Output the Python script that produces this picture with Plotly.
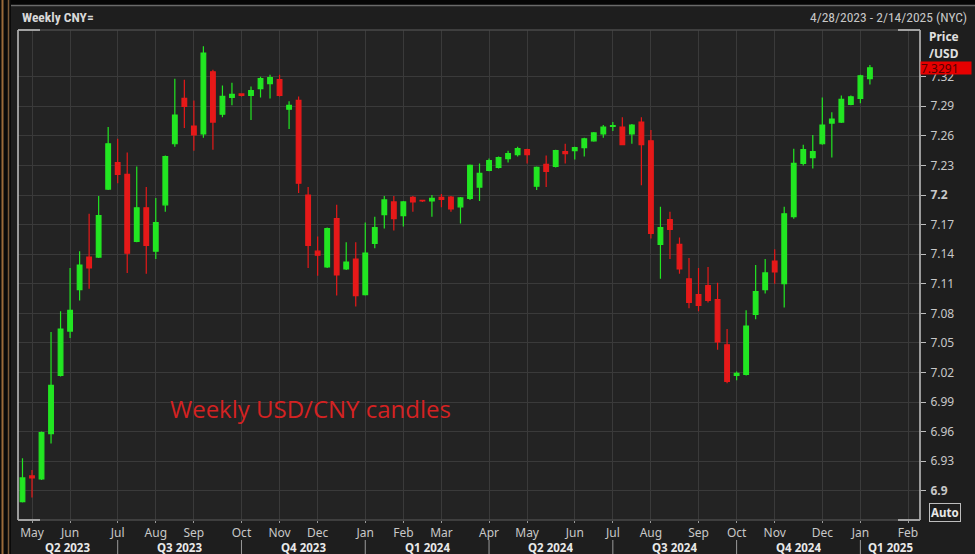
import pandas as pd
import plotly.graph_objects as go

# ---------------- data ----------------
window_start = "2023-04-28"
window_end = "2025-02-14"

opens = [6.889, 6.915, 6.912, 6.958, 7.017, 7.062, 7.104, 7.137, 7.137, 7.206,
         7.233, 7.221, 7.153, 7.187, 7.143, 7.190, 7.252, 7.298, 7.270, 7.262,
         7.325, 7.282, 7.299, 7.3025, 7.301, 7.308, 7.313, 7.317, 7.287, 7.296,
         7.200, 7.143, 7.127, 7.176, 7.125, 7.135, 7.099, 7.151, 7.180, 7.193,
         7.179, 7.1976, 7.1945, 7.194, 7.1976, 7.198, 7.188, 7.1966, 7.208, 7.225,
         7.228, 7.237, 7.241, 7.246, 7.209, 7.231, 7.229, 7.244, 7.245, 7.248,
         7.255, 7.262, 7.2697, 7.269, 7.262, 7.274, 7.255, 7.150, 7.175, 7.150,
         7.115, 7.099, 7.108, 7.094, 7.048, 7.017, 7.018, 7.079, 7.104, 7.133,
         7.110, 7.178, 7.232, 7.238, 7.252, 7.273, 7.274, 7.292, 7.298, 7.318]
highs = [6.933, 6.921, 6.960, 7.061, 7.082, 7.126, 7.143, 7.181, 7.199, 7.269,
         7.257, 7.243, 7.229, 7.208, 7.197, 7.240, 7.318, 7.317, 7.296, 7.351,
         7.327, 7.311, 7.314, 7.303, 7.310, 7.320, 7.322, 7.322, 7.295, 7.300,
         7.208, 7.158, 7.167, 7.190, 7.152, 7.152, 7.172, 7.178, 7.199, 7.199,
         7.194, 7.199, 7.195, 7.200, 7.201, 7.199, 7.198, 7.231, 7.232, 7.237,
         7.239, 7.245, 7.249, 7.247, 7.229, 7.240, 7.246, 7.252, 7.249, 7.258,
         7.264, 7.271, 7.274, 7.279, 7.272, 7.279, 7.266, 7.188, 7.183, 7.157,
         7.136, 7.126, 7.127, 7.111, 7.064, 7.021, 7.083, 7.129, 7.135, 7.145,
         7.188, 7.247, 7.251, 7.261, 7.299, 7.284, 7.301, 7.301, 7.322, 7.332]
lows = [6.888, 6.893, 6.911, 6.948, 7.016, 7.055, 7.093, 7.105, 7.136, 7.205,
        7.212, 7.121, 7.152, 7.120, 7.135, 7.183, 7.249, 7.268, 7.245, 7.258,
        7.246, 7.279, 7.291, 7.300, 7.276, 7.299, 7.298, 7.300, 7.267, 7.202,
        7.126, 7.118, 7.126, 7.098, 7.124, 7.087, 7.098, 7.146, 7.166, 7.164,
        7.168, 7.183, 7.193, 7.178, 7.1875, 7.183, 7.171, 7.195, 7.194, 7.224,
        7.227, 7.233, 7.239, 7.232, 7.205, 7.208, 7.228, 7.232, 7.236, 7.239,
        7.254, 7.258, 7.265, 7.251, 7.252, 7.210, 7.156, 7.115, 7.135, 7.120,
        7.085, 7.082, 7.091, 7.043, 7.009, 7.012, 7.017, 7.074, 7.100, 7.110,
        7.086, 7.176, 7.230, 7.227, 7.251, 7.238, 7.273, 7.291, 7.293, 7.312]
closes = [6.913, 6.913, 6.959, 7.007, 7.064, 7.083, 7.129, 7.126, 7.179, 7.252,
          7.221, 7.141, 7.187, 7.149, 7.172, 7.239, 7.281, 7.290, 7.261, 7.344,
          7.274, 7.300, 7.302, 7.301, 7.306, 7.318, 7.319, 7.301, 7.291, 7.212,
          7.149, 7.139, 7.166, 7.119, 7.132, 7.098, 7.141, 7.167, 7.195, 7.176,
          7.193, 7.193, 7.194, 7.1966, 7.1956, 7.186, 7.197, 7.230, 7.222, 7.235,
          7.238, 7.242, 7.247, 7.241, 7.228, 7.224, 7.245, 7.242, 7.248, 7.257,
          7.263, 7.269, 7.2705, 7.251, 7.271, 7.251, 7.161, 7.167, 7.165, 7.125,
          7.091, 7.088, 7.093, 7.051, 7.011, 7.019, 7.067, 7.102, 7.121, 7.122,
          7.181, 7.232, 7.246, 7.244, 7.271, 7.277, 7.297, 7.2997, 7.321, 7.3291]

y_ticks = [6.9, 6.93, 6.96, 6.99, 7.02, 7.05, 7.08, 7.11, 7.14, 7.17, 7.2,
           7.23, 7.26, 7.29, 7.32]
y_tick_labels = ["<b>6.9</b>", "6.93", "6.96", "6.99", "7.02", "7.05", "7.08",
                 "7.11", "7.14", "7.17", "<b>7.2</b>", "7.23", "7.26", "7.29", "7.32"]
last_price_label = "7.3291"

# ---------------- calendar / axis ----------------
weeks = pd.date_range(window_start, window_end, freq="7D")  # weekly bars (Fridays)
bar_x = list(range(len(opens)))

month_idx, month_txt = [], []
for i in range(1, len(weeks)):
    if weeks[i].month != weeks[i - 1].month:
        month_idx.append(i)
        month_txt.append(weeks[i].strftime("%b"))

X0, X1 = -0.47, 94.26
Y0, Y1 = 6.8703, 7.3674

W, H = 975, 554
ML, MR, MT, MB = 18, 55, 30, 34
PW, PH = W - ML - MR, H - MT - MB


def px_x(p):
    return (p - ML) / PW


def px_y(p):
    return (H - MB - p) / PH


fig = go.Figure()
fig.add_trace(go.Candlestick(
    x=bar_x, open=opens, high=highs, low=lows, close=closes,
    increasing=dict(line=dict(color="#22e622", width=1.2), fillcolor="#22e622"),
    decreasing=dict(line=dict(color="#e61919", width=1.2), fillcolor="#e61919"),
    whiskerwidth=0, showlegend=False, hoverinfo="skip"))

shapes = []
annotations = []

# quarter boundaries / labels
bounds = [X0]
for i, t in zip(month_idx, month_txt):
    if weeks[i].month in (1, 4, 7, 10):
        bounds.append(i)
        shapes.append(dict(type="line", xref="x", yref="paper", x0=i, x1=i,
                           y0=px_y(540), y1=px_y(554),
                           line=dict(color="#9a9a9a", width=1)))
bounds.append(X1)
for a, b in zip(bounds[:-1], bounds[1:]):
    ref = weeks[max(1, int(a) if a >= 0 else 1)]
    q = (ref.month - 1) // 3 + 1
    annotations.append(dict(x=(a + b) / 2, y=px_y(547), xref="x", yref="paper",
                            text=f"<b>Q{q} {ref.year}</b>", showarrow=False,
                            font=dict(family="Noto Sans, DejaVu Sans", size=11.5,
                                      color="#e8e8e8"),
                            height=13, valign="middle",
                            xanchor="center", yanchor="middle", borderpad=0))

# frame around plot
fc = "#c4c4c4"
shapes += [
    dict(type="line", xref="paper", yref="paper", x0=0, x1=0, y0=0, y1=1, line=dict(color=fc, width=1.5)),
    dict(type="line", xref="paper", yref="paper", x0=1, x1=1, y0=0, y1=1, line=dict(color=fc, width=1.5)),
    dict(type="line", xref="paper", yref="paper", x0=0, x1=1, y0=1, y1=1, line=dict(color="#4a4a4a", width=1.5)),
    dict(type="line", xref="paper", yref="paper", x0=0, x1=1, y0=0, y1=0, line=dict(color="#4a4a4a", width=1.5)),
    dict(type="line", xref="paper", yref="paper", x0=0, x1=px_x(40), y0=1, y1=1, line=dict(color=fc, width=1.5)),
    dict(type="line", xref="paper", yref="paper", x0=px_x(898), x1=1, y0=1, y1=1, line=dict(color=fc, width=1.5)),
    dict(type="line", xref="paper", yref="paper", x0=0, x1=px_x(40), y0=0, y1=0, line=dict(color=fc, width=1.5)),
    dict(type="line", xref="paper", yref="paper", x0=px_x(898), x1=1, y0=0, y1=0, line=dict(color=fc, width=1.5)),
    # top black strip + line
    dict(type="rect", xref="paper", yref="paper", x0=px_x(0), x1=px_x(W), y0=px_y(0), y1=px_y(5),
         fillcolor="#050505", line=dict(width=0), layer="below"),
    dict(type="line", xref="paper", yref="paper", x0=px_x(0), x1=px_x(W), y0=px_y(5.5), y1=px_y(5.5),
         line=dict(color="#6a6a6a", width=1.5)),
    # left window border
    dict(type="rect", xref="paper", yref="paper", x0=px_x(0), x1=px_x(11), y0=px_y(0), y1=px_y(H),
         fillcolor="#0a0a0a", line=dict(width=0)),
    dict(type="line", xref="paper", yref="paper", x0=px_x(2.5), x1=px_x(2.5), y0=px_y(0), y1=px_y(H),
         line=dict(color="#9a6a3a", width=2)),
    dict(type="line", xref="paper", yref="paper", x0=px_x(8.5), x1=px_x(8.5), y0=px_y(0), y1=px_y(H),
         line=dict(color="#7a5a3a", width=1.5)),
]

hdr_font = dict(family="Liberation Sans Narrow, Roboto Condensed, Roboto", size=13.5, color="#d8d8d8")
annotations += [
    dict(x=px_x(20), y=px_y(17), xref="paper", yref="paper", text="<b>Weekly CNY=</b>",
         showarrow=False, xanchor="left", yanchor="middle", font=hdr_font),
    dict(x=px_x(969), y=px_y(17), xref="paper", yref="paper", text="4/28/2023 - 2/14/2025 (NYC)",
         showarrow=False, xanchor="right", yanchor="middle",
         font=dict(family="Liberation Sans Narrow, Roboto Condensed, Roboto", size=13.5, color="#c8c8c8")),
    dict(x=px_x(927), y=px_y(36), xref="paper", yref="paper", text="<b>Price</b>",
         showarrow=False, xanchor="left", yanchor="middle", height=14,
         font=dict(family="Noto Sans, DejaVu Sans", size=12, color="#e0e0e0")),
    dict(x=px_x(927), y=px_y(52.5), xref="paper", yref="paper", text="<b>/USD</b>",
         showarrow=False, xanchor="left", yanchor="middle", height=14,
         font=dict(family="Noto Sans, DejaVu Sans", size=12, color="#e0e0e0")),
    dict(x=px_x(920), y=px_y(68), xref="paper", yref="paper", text=last_price_label,
         showarrow=False, xanchor="left", yanchor="middle", align="left",
         bgcolor="#e60000", width=50, height=12, borderpad=0,
         font=dict(family="Noto Sans, DejaVu Sans", size=12, color="#550000")),
    dict(x=px_x(945), y=px_y(512), xref="paper", yref="paper", text="<b>Auto</b>",
         showarrow=False, xanchor="center", yanchor="middle",
         bordercolor="#bdbdbd", borderwidth=1, borderpad=1,
         font=dict(family="Noto Sans, DejaVu Sans", size=11.5, color="#e8e8e8")),
    dict(x=px_x(168), y=px_y(408), xref="paper", yref="paper", text="Weekly USD/CNY candles",
         showarrow=False, xanchor="left", yanchor="middle",
         font=dict(family="Open Sans", size=24, color="#d42222")),
]

tick_font = dict(family="Noto Sans, DejaVu Sans", size=12, color="#c8c8c8")
fig.update_layout(
    width=W, height=H,
    margin=dict(l=ML, r=MR, t=MT, b=MB, pad=0),
    paper_bgcolor="#1e1e1e", plot_bgcolor="#232323",
    showlegend=False,
    shapes=shapes, annotations=annotations,
    xaxis=dict(range=[X0, X1], tickmode="array", tickvals=month_idx, ticktext=month_txt,
               showgrid=True, gridcolor="#3a3a3a", gridwidth=1, zeroline=False,
               ticks="outside", ticklen=2, tickcolor="#9a9a9a", tickfont=tick_font,
               rangeslider=dict(visible=False), showline=False, fixedrange=True,
               automargin=False),
    yaxis=dict(range=[Y0, Y1], side="right", tickmode="array", tickvals=y_ticks,
               ticktext=y_tick_labels, showgrid=True, gridcolor="#3a3a3a", gridwidth=1,
               zeroline=False, ticks="outside", ticklen=5, tickcolor="#bdbdbd",
               ticklabelstandoff=2, tickfont=tick_font, showline=False, fixedrange=True,
               automargin=False),
)

fig.write_html(
    "out.html",
    config={"displayModeBar": False},
    post_script="document.body.style.margin='0';document.body.style.background='#1e1e1e';",
)
